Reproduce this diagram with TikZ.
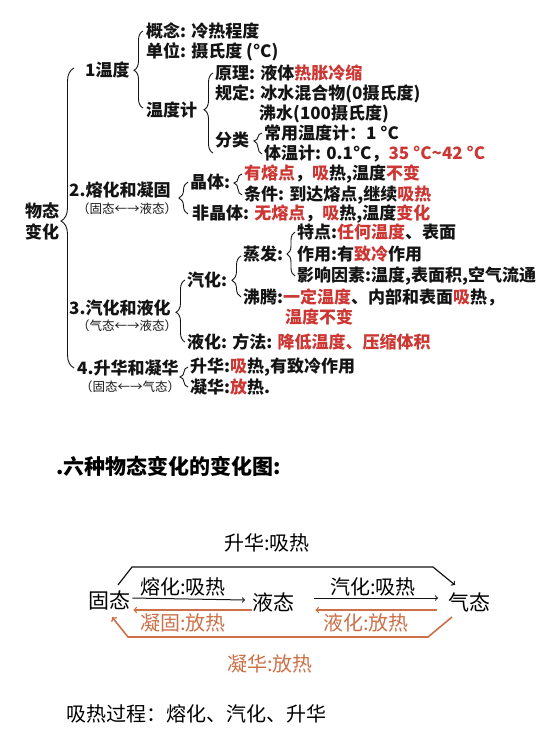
\documentclass[tikz,border=0pt]{standalone}
\usepackage{fontspec}
\setmainfont{Noto Sans CJK SC}
\usepackage{xcolor}
\usetikzlibrary{decorations.pathreplacing}
\definecolor{primary}{RGB}{20, 20, 20}
\definecolor{hot}{RGB}{204, 55, 52}
\definecolor{warm}{RGB}{205, 112, 72}
\newcommand{\redtxt}[1]{\textcolor{hot}{#1}}

\begin{document}
\begin{tikzpicture}[x=1pt,y=-1pt,
  lv/.style={anchor=west,inner sep=0pt,text=primary,font=\bfseries\fontsize{17}{21}\selectfont},
  sub/.style={anchor=west,inner sep=0pt,text=primary,font=\fontsize{12.5}{14}\selectfont},
  big/.style={inner sep=0pt,font=\fontsize{#1}{#1}\selectfont},
  brc/.style={primary,line width=0.9pt,decorate,decoration={brace,amplitude=#1}},
  brc/.default=8pt]
\useasboundingbox (0,0) rectangle (558,734);
% upper tree
\node[lv,anchor=center,align=center] (wutai) at (42,221) {物态\\变化};
\draw[brc=13pt,decoration={aspect=0.49}] (74,368) -- (74,68);
\node[lv] (wendu) at (85,70) {1温度};
\draw[brc=9pt,decoration={aspect=0.49}] (143,108) -- (143,31);
\node[lv] (gainian) at (146,31) {概念: 冷热程度};
\node[lv] (danwei) at (146,52) {单位: 摄氏度 (°C)};
\node[lv] (wenduji) at (146,110) {温度计};
\draw[brc=9pt,decoration={aspect=0.54}] (213,153) -- (213,73);
\node[lv] (yuanli) at (215,73) {原理: 液体\redtxt{热胀冷缩}};
\node[lv] (guiding) at (215,94) {规定: 冰水混合物(0摄氏度)};
\node[lv] (feishui) at (259,114) {沸水(100摄氏度)};
\node[lv] (fenlei) at (215,140) {分类};
\draw[brc,decoration={aspect=0.62}] (262,154) -- (262,133);
\node[lv] (changyong) at (264,133) {常用温度计：1 °C};
\node[lv] (tiwenji) at (264,154) {体温计: 0.1°C，\redtxt{35 °C\textasciitilde42 °C}};
\node[lv] (ronghua) at (69,190) {2.熔化和凝固};
\node[sub] (ronghuasub) at (77,209) {（固态←→液态）};
\draw[brc=9pt] (188,214) -- (188,182);
\node[lv] (jingti) at (190,182) {晶体:};
\draw[brc,decoration={aspect=0.57}] (242,195) -- (242,174);
\node[lv] (youxd) at (244,174) {\redtxt{有熔点}，\redtxt{吸}热,温度\redtxt{不变}};
\node[lv] (tiaojian) at (244,195) {条件: 到达熔点,继续\redtxt{吸热}};
\node[lv] (feijingti) at (192,214) {非晶体: \redtxt{无熔点}，\redtxt{吸}热,温度\redtxt{变化}};
\node[lv] (qihuayehua) at (69,308) {3.汽化和液化};
\node[sub] (qihuasub) at (77,326) {（气态←→液态）};
\draw[brc=9pt,decoration={aspect=0.48}] (185,342) -- (185,280);
\node[lv] (qihua) at (187,280) {汽化:};
\draw[brc=9pt,decoration={aspect=0.41}] (241,297) -- (241,256);
\node[lv] (zhengfa) at (243,254) {蒸发:};
\draw[brc] (295,276) -- (295,232);
\node[lv] (tedian) at (297,232) {特点:\redtxt{任何温度}、表面};
\node[lv] (zuoyong) at (297,254) {作用:有\redtxt{致冷}作用};
\node[lv] (yingxiang) at (297,276) {影响因素:温度,表面积,空气流通};
\node[lv] (feiteng) at (243,297) {沸腾:\redtxt{一定温度}、内部和表面\redtxt{吸}热，};
\node[lv] (bubian) at (285,317) {\redtxt{温度不变}};
\node[lv] (yehua) at (187,342) {液化: 方法: \redtxt{降低温度、压缩体积}};
\node[lv] (shengning) at (77,368) {4.升华和凝华};
\node[sub] (shengningsub) at (80,387) {（固态←→气态）};
\draw[brc] (188,387) -- (188,367);
\node[lv] (shenghua) at (190,367) {升华:\redtxt{吸}热,有致冷作用};
\node[lv] (ninghua) at (190,387) {凝华:\redtxt{放}热.};
% six changes
\node[big=21,anchor=west,font=\bfseries\fontsize{21}{21}\selectfont] (title) at (56,466) {.六种物态变化的变化图:};
\node[big=20] (shlabel) at (267,543) {升华:吸热};
\node[big=21,anchor=west] (gutai) at (88,600) {固态};
\node[big=21,anchor=west] (yetai) at (252,602) {液态};
\node[big=21,anchor=west] (qitai) at (448,602) {气态};
\node[big=20,anchor=west] (rhlabel) at (140,587) {熔化:吸热};
\node[big=20,anchor=west] (qhlabel) at (330,587) {汽化:吸热};
\node[big=20,anchor=west,text=warm] (nglabel) at (140,623) {凝固:放热};
\node[big=20,anchor=west,text=warm] (yhlabel) at (323,623) {液化:放热};
\node[big=20,anchor=west,text=warm] (nhlabel) at (227,664) {凝华:放热};
\draw[primary,line width=1pt,->] ([xshift=2pt,yshift=2pt]gutai.east) -- ([xshift=-7pt,yshift=2pt]yetai.west);
\draw[primary,line width=1pt,->] ([xshift=20pt,yshift=4pt]yetai.east) -- ([xshift=-10pt,yshift=4pt]qitai.west);
\draw[warm,line width=1.3pt,->] ([yshift=-8pt]yetai.west) -- ([xshift=3pt,yshift=-10pt]gutai.east);
\draw[warm,line width=1.3pt,->] ([xshift=-11pt,yshift=-8pt]qitai.west) -- ([xshift=21pt,yshift=-8pt]yetai.east);
\coordinate (sgstart) at (118,585);
\coordinate (sgend) at (455,585);
\coordinate (nhstart) at (452,617);
\coordinate (nhend) at (112,617);
\draw[primary,line width=1.2pt,->] (sgstart) -- (132,567) -- (433,567) -- (sgend);
\draw[warm,line width=1.6pt,->] (nhstart) -- (428,637) -- (128,637) -- (nhend);
\node[big=20,anchor=west] (xrlabel) at (66,714) {吸热过程：熔化、汽化、升华};
\end{tikzpicture}
\end{document}
